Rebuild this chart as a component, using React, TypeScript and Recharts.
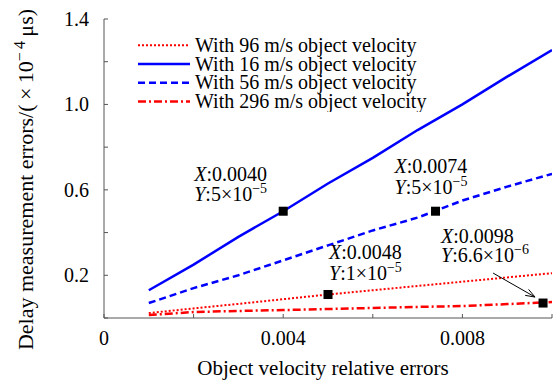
import React from "react";
import { ComposedChart, Line, Scatter, XAxis, YAxis, Legend, Label } from "recharts";

const FONT = "'Liberation Serif', 'Times New Roman', serif";
const BLUE = "#0000ff";
const RED = "#ff0000";
const FRAME = "#555555";

// object velocity relative errors
const relErrors = [0.001, 0.002, 0.003, 0.004, 0.005, 0.006, 0.007, 0.008, 0.009, 0.01];
// delay measurement errors (x 1e-4 us)
const v96 = [0.023, 0.045, 0.066, 0.088, 0.11, 0.13, 0.15, 0.17, 0.19, 0.21];
const v16 = [0.13, 0.25, 0.38, 0.5, 0.63, 0.75, 0.88, 1.0, 1.13, 1.255];
const v56 = [0.07, 0.14, 0.2, 0.27, 0.34, 0.41, 0.47, 0.55, 0.615, 0.675];
const v296 = [0.014, 0.028, 0.033, 0.037, 0.042, 0.047, 0.052, 0.056, 0.065, 0.075];

const markerX = [0.004, 0.0074, 0.005, 0.0098];
const markerY = [0.5, 0.5, 0.11, 0.07];
const markerXText = ["0.0040", "0.0074", "0.0048", "0.0098"];
const markerYMant = ["5", "5", "1", "6.6"];
const markerYExp = ["\u22125", "\u22125", "\u22125", "\u22126"];

const xTicks = [0, 0.002, 0.004, 0.006, 0.008, 0.01];
const xTickLabels = ["0", "", "0.004", "", "0.008", ""];
const yTicks = [0, 0.2, 0.4, 0.6, 0.8, 1.0, 1.2, 1.4];
const yTickLabels = ["", "0.2", "", "0.6", "", "1.0", "", "1.4"];

const SERIES = [
  { key: "v96", name: "With 96 m/s object velocity", color: RED, dash: "2 2", width: 2 },
  { key: "v16", name: "With 16 m/s object velocity", color: BLUE, dash: undefined, width: 2.5 },
  { key: "v56", name: "With 56 m/s object velocity", color: BLUE, dash: "7 4", width: 2.5 },
  { key: "v296", name: "With 296 m/s object velocity", color: RED, dash: "8 3 2 3", width: 2.5 },
];

const data = relErrors.map((x, i) => ({ x, v96: v96[i], v16: v16[i], v56: v56[i], v296: v296[i] }));
const markers = markerX.map((x, i) => ({ x, y: markerY[i], id: i }));

// text placement of each annotation relative to its marker
const NOTE_POS = [
  { dx: -89, dy1: -30, dy2: -10 },
  { dx: -41, dy1: -38, dy2: -17 },
  { dx: 1, dy1: -36, dy2: -15 },
  { dx: -102, dy1: -60, dy2: -41 },
];

const TICK = 4;

function BottomTick({ x, y, index }: any) {
  return (
    <g>
      <line x1={x} y1={y} x2={x} y2={y - TICK} stroke={FRAME} />
      <text x={x} y={y + 27} textAnchor="middle" fontFamily={FONT} fontSize={20} fill="#000">
        {xTickLabels[index]}
      </text>
    </g>
  );
}

function TopTick({ x, y }: any) {
  return <line x1={x} y1={y} x2={x} y2={y + TICK} stroke={FRAME} />;
}

function LeftTick({ x, y, index }: any) {
  return (
    <g>
      <line x1={x} y1={y} x2={x + TICK} y2={y} stroke={FRAME} />
      <text x={x - 15} y={y} dy="0.35em" textAnchor="end" fontFamily={FONT} fontSize={20} fill="#000">
        {yTickLabels[index]}
      </text>
    </g>
  );
}

function RightTick({ x, y }: any) {
  return <line x1={x} y1={y} x2={x - TICK} y2={y} stroke={FRAME} />;
}

function MarkerShape(props: any) {
  const { cx, cy, payload } = props;
  const i = payload.id;
  const p = NOTE_POS[i];
  let arrow = null;
  if (i === 3) {
    const sx = cx - 50, sy = cy - 30, ex = cx - 8, ey = cy - 6;
    const a = Math.atan2(ey - sy, ex - sx);
    const h = 10, w = 0.35;
    arrow = (
      <g stroke="#000" strokeWidth={1} fill="none">
        <line x1={sx} y1={sy} x2={ex} y2={ey} />
        <line x1={ex} y1={ey} x2={ex - h * Math.cos(a - w)} y2={ey - h * Math.sin(a - w)} />
        <line x1={ex} y1={ey} x2={ex - h * Math.cos(a + w)} y2={ey - h * Math.sin(a + w)} />
      </g>
    );
  }
  return (
    <g>
      {arrow}
      <rect x={cx - 4.5} y={cy - 4.5} width={9} height={9} fill="#000" />
      <text x={cx + p.dx} y={cy + p.dy1} fontFamily={FONT} fontSize={20} fill="#000">
        <tspan fontStyle="italic">X</tspan>
        <tspan>:{markerXText[i]}</tspan>
      </text>
      <text x={cx + p.dx} y={cy + p.dy2} fontFamily={FONT} fontSize={20} fill="#000">
        <tspan fontStyle="italic">Y</tspan>
        <tspan>:{markerYMant[i]}{"\u00d710"}</tspan>
        <tspan dy={-8} fontSize={14}>{markerYExp[i]}</tspan>
      </text>
    </g>
  );
}

function LegendBox() {
  const row = 18.7;
  return (
    <svg width={320} height={row * 4 + 2} style={{ display: "block" }}>
      {SERIES.map((s, i) => {
        const y = row / 2 + i * row + 1;
        return (
          <g key={s.key}>
            <line x1={1} y1={y} x2={53} y2={y} stroke={s.color} strokeWidth={s.width} strokeDasharray={s.dash} />
            <text x={58} y={y} dy="0.33em" fontFamily={FONT} fontSize={20} fill="#000">
              {s.name}
            </text>
          </g>
        );
      })}
    </svg>
  );
}

function XTitle({ viewBox }: any) {
  return (
    <text x={viewBox.x + viewBox.width / 2 - 5} y={viewBox.y + 57} textAnchor="middle" fontFamily={FONT} fontSize={21} fill="#000">
      Object velocity relative errors
    </text>
  );
}

function YTitle({ viewBox }: any) {
  const cx = viewBox.x - 19;
  const cy = viewBox.y + viewBox.height / 2 + 11;
  return (
    <text
      x={cx}
      y={cy}
      dy="0.35em"
      textAnchor="middle"
      transform={`rotate(-90 ${cx} ${cy})`}
      fontFamily={FONT}
      fontSize={22}
      fill="#000"
    >
      <tspan>Delay measurement errors/(</tspan>
      <tspan>{"\u2009\u00d7\u200910"}</tspan>
      <tspan dy={-8} fontSize={16}>{"\u2212\u20094"}</tspan>
      <tspan dy={8}>{"\u2009\u03bcs)"}</tspan>
    </text>
  );
}

export default function App() {
  return (
    <div style={{ position: "absolute", left: 0, top: 0, background: "#fff" }}>
      <ComposedChart width={555} height={382} data={data} margin={{ top: 19, right: 3, bottom: 24, left: 44 }}>
        <XAxis
          dataKey="x"
          type="number"
          domain={[0, 0.01]}
          ticks={xTicks}
          interval={0}
          allowDataOverflow
          height={40}
          tickSize={0}
          tickMargin={0}
          tick={<BottomTick />}
          axisLine={{ stroke: FRAME }}
        >
          <Label content={<XTitle />} />
        </XAxis>
        <XAxis
          xAxisId="top"
          orientation="top"
          dataKey="x"
          type="number"
          domain={[0, 0.01]}
          ticks={xTicks}
          interval={0}
          height={0}
          tickSize={0}
          tickMargin={0}
          tick={<TopTick />}
          axisLine={{ stroke: FRAME }}
        />
        <YAxis
          type="number"
          domain={[0, 1.4]}
          ticks={yTicks}
          interval={0}
          allowDataOverflow
          width={60}
          tickSize={0}
          tickMargin={0}
          tick={<LeftTick />}
          axisLine={{ stroke: FRAME }}
        >
          <Label content={<YTitle />} />
        </YAxis>
        <YAxis
          yAxisId="right"
          orientation="right"
          type="number"
          domain={[0, 1.4]}
          ticks={yTicks}
          interval={0}
          width={0}
          tickSize={0}
          tickMargin={0}
          tick={<RightTick />}
          axisLine={{ stroke: FRAME }}
        />
        <Legend
          layout="vertical"
          align="center"
          verticalAlign="middle"
          wrapperStyle={{ left: 137, top: 35, width: 320 }}
          content={() => <LegendBox />}
        />
        {SERIES.map((s) => (
          <Line
            key={s.key}
            dataKey={s.key}
            name={s.name}
            type="linear"
            stroke={s.color}
            strokeWidth={s.width}
            strokeDasharray={s.dash}
            dot={false}
            activeDot={false}
            isAnimationActive={false}
          />
        ))}
        <Scatter data={markers} dataKey="y" shape={<MarkerShape />} isAnimationActive={false} />
      </ComposedChart>
    </div>
  );
}
